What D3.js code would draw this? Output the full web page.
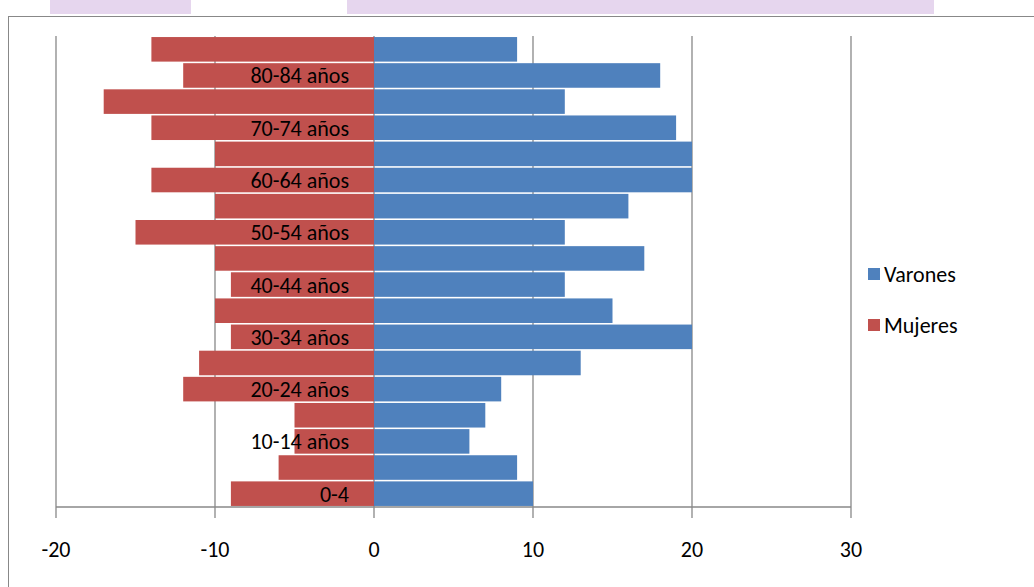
<!DOCTYPE html><html><head><meta charset="utf-8"><script src="https://cdn.jsdelivr.net/npm/d3@7"></script>
<style>body{margin:0;background:#fff}text{font-family:Carlito,"Liberation Sans Narrow","Open Sans",sans-serif}</style></head><body><script>
const categories=["85+","80-84 años","75-79","70-74 años","65-69","60-64 años","55-59","50-54 años","45-49","40-44 años","35-39","30-34 años","25-29","20-24 años","15-19","10-14 años","5-9","0-4"];
const labelShown=[false,true,false,true,false,true,false,true,false,true,false,true,false,true,false,true,false,true];
const varones=[9,18,12,19,20,20,16,12,17,12,15,20,13,8,7,6,9,10];
const mujeres=[-14,-12,-17,-14,-10,-14,-10,-15,-10,-9,-10,-9,-11,-12,-5,-5,-6,-9];
const ticks=[-20,-10,0,10,20,30];
const svg=d3.select("body").append("svg").attr("width",1034).attr("height",587);
svg.append("rect").attr("x",50).attr("y",0).attr("width",141).attr("height",14).attr("fill","#e6d6ee");
svg.append("rect").attr("x",347).attr("y",0).attr("width",587).attr("height",14).attr("fill","#e6d6ee");
svg.append("rect").attr("x",8.5).attr("y",16.5).attr("width",1040).attr("height",600).attr("fill","#fff").attr("stroke","#888");
const x=d3.scaleLinear().domain([-20,30]).range([56,851]);
const y=d3.scaleBand().domain(categories).range([36,507]).paddingInner(0.06).paddingOuter(0.04);
const g=svg.append("g");
ticks.forEach(t=>{g.append("line").attr("x1",x(t)).attr("x2",x(t)).attr("y1",36).attr("y2",518).attr("stroke","#888").attr("stroke-width",1.3);
 g.append("text").attr("x",x(t)).attr("y",557).attr("text-anchor","middle").attr("font-size",22).text(t);});
g.append("line").attr("x1",56).attr("x2",851).attr("y1",507).attr("y2",507).attr("stroke","#888").attr("stroke-width",1.5);
categories.forEach((c,i)=>{
 g.append("rect").attr("x",x(mujeres[i])).attr("y",y(c)).attr("width",x(0)-x(mujeres[i])).attr("height",y.bandwidth()).attr("fill","#c0504d");
 g.append("rect").attr("x",x(0)).attr("y",y(c)).attr("width",x(varones[i])-x(0)).attr("height",y.bandwidth()).attr("fill","#4f81bd");
});
categories.forEach((c,i)=>{ if(labelShown[i]) g.append("text").attr("x",349).attr("y",y(c)+y.bandwidth()/2+8).attr("text-anchor","end").attr("font-size",22).attr("fill","#000").text(c);});
[["Varones","#4f81bd",274],["Mujeres","#c0504d",325]].forEach(([n,c,yy])=>{
 svg.append("rect").attr("x",868).attr("y",yy-6).attr("width",12).attr("height",12).attr("fill",c);
 svg.append("text").attr("x",884).attr("y",yy+8).attr("font-size",22).text(n);});
</script></body></html>
